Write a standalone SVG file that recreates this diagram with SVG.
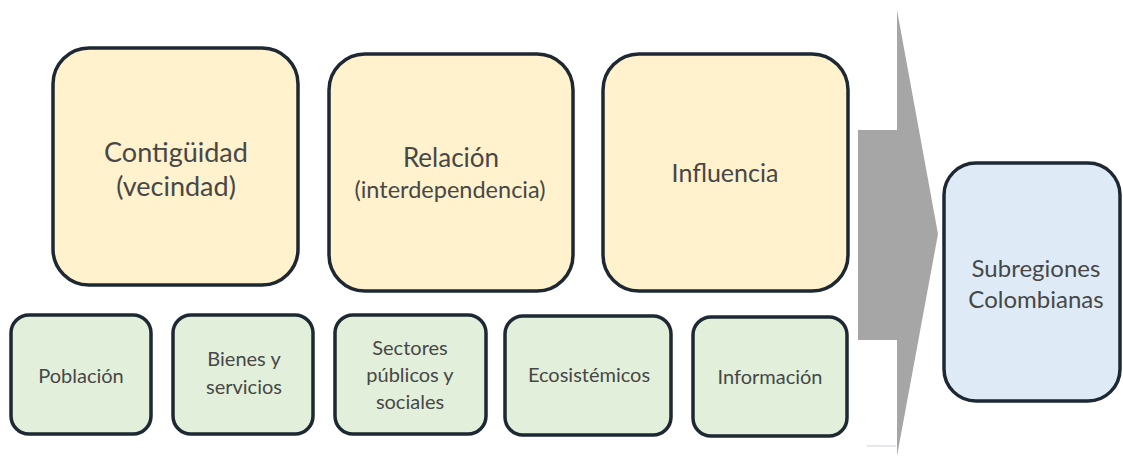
<svg xmlns="http://www.w3.org/2000/svg" width="1123" height="456" viewBox="0 0 1123 456">
<style>
.box{stroke:#1e2833;stroke-width:3.5}
.y{fill:#fff2cc}
.g{fill:#e2efda}
.b{fill:#deebf7}
text{font-family:Lato,"Liberation Sans",sans-serif;fill:#474747;text-anchor:middle}
.s{font-size:20px}
</style>
<rect width="1123" height="456" fill="#ffffff"/>
<g id="connectors">
<path d="M858,130 L897,130 L897,10 L938,234 L897,456 L897,340 L858,340 Z" fill="#a6a6a6"/>
<line x1="867" y1="446" x2="896" y2="446" stroke="#c8d0dc" stroke-width="1"/>
</g>
<g id="contiguidad">
<rect class="box y" x="53" y="48" width="245" height="237" rx="36"/>
<text x="176" y="162" font-size="27">Contigüidad</text>
<text x="176" y="196" font-size="27">(vecindad)</text>
</g>
<g id="relacion">
<rect class="box y" x="329" y="54" width="244" height="237" rx="36"/>
<text x="451" y="167" font-size="26">Relación</text>
<text x="450" y="198" font-size="23.5">(interdependencia)</text>
</g>
<g id="influencia">
<rect class="box y" x="603" y="54" width="245" height="237" rx="36"/>
<text x="725" y="182" font-size="25">Influencia</text>
</g>
<g id="subregiones">
<rect class="box b" x="944" y="163" width="176" height="238" rx="32"/>
<text x="1036" y="277" font-size="24">Subregiones</text>
<text x="1036" y="308" font-size="24">Colombianas</text>
</g>
<g id="poblacion">
<rect class="box g" x="11" y="315" width="140" height="119" rx="18"/>
<text class="s" x="81" y="383">Población</text>
</g>
<g id="bienes">
<rect class="box g" x="173" y="315" width="140" height="119" rx="18"/>
<text class="s" x="244" y="366">Bienes y</text>
<text class="s" x="244" y="394">servicios</text>
</g>
<g id="sectores">
<rect class="box g" x="335" y="315" width="151" height="119" rx="18"/>
<text class="s" x="410" y="355">Sectores</text>
<text class="s" x="410" y="382">públicos y</text>
<text class="s" x="410" y="409">sociales</text>
</g>
<g id="ecosistemicos">
<rect class="box g" x="505" y="316" width="166" height="119" rx="18"/>
<text class="s" x="589" y="382">Ecosistémicos</text>
</g>
<g id="informacion">
<rect class="box g" x="693" y="317" width="154" height="119" rx="18"/>
<text class="s" x="770" y="384">Información</text>
</g>
</svg>
